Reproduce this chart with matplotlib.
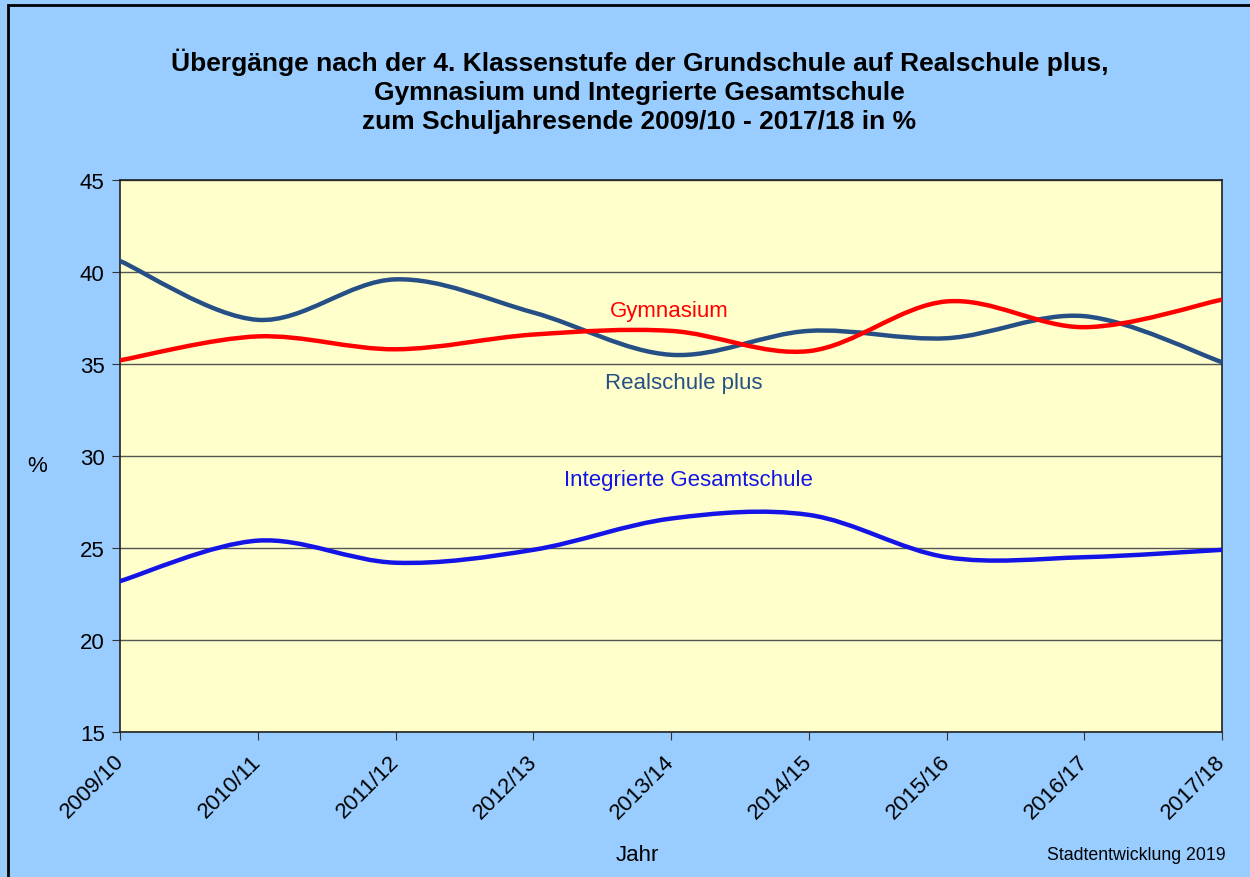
import numpy as np
import matplotlib.pyplot as plt
import matplotlib.transforms as mtransforms
from matplotlib.path import Path
from matplotlib.patches import PathPatch, Rectangle

plt.rcParams['font.family'] = ['Liberation Sans', 'DejaVu Sans']

# school years and transfer rates in %
years = ['2009/10', '2010/11', '2011/12', '2012/13', '2013/14',
         '2014/15', '2015/16', '2016/17', '2017/18']
realschule = [40.6, 37.4, 39.6, 37.8, 35.5, 36.8, 36.4, 37.6, 35.1]
gymnasium = [35.2, 36.5, 35.8, 36.6, 36.8, 35.7, 38.4, 37.0, 38.5]
igs = [23.2, 25.4, 24.2, 24.9, 26.6, 26.8, 24.5, 24.5, 24.9]


def smooth_path(x, y):
    # Bezier path through the points, like Excel's "smoothed line"
    p = np.column_stack([x, y]).astype(float)
    ext = np.vstack([p[0], p, p[-1]])
    verts = [p[0]]
    codes = [Path.MOVETO]
    for i in range(len(p) - 1):
        c1 = p[i] + (ext[i + 2] - ext[i]) / 6
        c2 = p[i + 1] - (ext[i + 3] - ext[i + 1]) / 6
        verts += [c1, c2, p[i + 1]]
        codes += [Path.CURVE4] * 3
    return Path(verts, codes)


fig = plt.figure(figsize=(12.5, 8.78), dpi=100)
fig.patch.set_facecolor('#99CCFF')
fig.patches.append(Rectangle((8 / 1250, -0.1), 1.2, 1 - 6 / 878 + 0.1,
                             transform=fig.transFigure, fill=False,
                             edgecolor='black', linewidth=2))

ax = fig.add_axes([120 / 1250, 1 - 733 / 878, 1102 / 1250, 552 / 878])
ax.set_facecolor('#FFFFCC')

x = np.arange(len(years))
series = [(realschule, '#264F85'), (gymnasium, '#FF0000'), (igs, '#1414E6')]
for vals, col in series:
    ax.add_patch(PathPatch(smooth_path(x, vals), fill=False, edgecolor=col,
                           linewidth=3.2, capstyle='round', zorder=3))

ax.set_xlim(0, len(years) - 1)
ax.set_ylim(15, 45)
ax.set_yticks(range(15, 46, 5))
ax.set_xticks(x)
ax.set_xticklabels(years, rotation=45, ha='right', rotation_mode='anchor')
ax.tick_params(axis='both', labelsize=16, direction='out', length=6,
               color='#333333', pad=5)
shift = mtransforms.ScaledTranslation(-7 / 100, -3 / 100, fig.dpi_scale_trans)
for lbl in ax.get_xticklabels():
    lbl.set_transform(lbl.get_transform() + shift)
ax.yaxis.grid(True, color='#555555', linewidth=1)
ax.set_axisbelow(True)
for s in ax.spines.values():
    s.set_color('#222222')
    s.set_linewidth(1.2)

ax.text(3.99, 37.93, 'Gymnasium', color='#FF0000', fontsize=16,
        ha='center', va='center')
ax.text(4.09, 33.97, 'Realschule plus', color='#264F85', fontsize=16,
        ha='center', va='center')
ax.text(4.13, 28.7, 'Integrierte Gesamtschule', color='#1414E6', fontsize=16,
        ha='center', va='center')

fig.text(0.5115, 1 - 91 / 878,
         'Übergänge nach der 4. Klassenstufe der Grundschule auf Realschule plus,\n'
         'Gymnasium und Integrierte Gesamtschule\n'
         'zum Schuljahresende 2009/10 - 2017/18 in %',
         ha='center', va='center', fontsize=19, fontweight='bold',
         linespacing=1.27)
fig.text(37 / 1250, 1 - 467 / 878, '%', ha='center', va='center', fontsize=16)
fig.text(637 / 1250, 1 - 856 / 878, 'Jahr', ha='center', va='center',
         fontsize=16)
fig.text(1226 / 1250, 1 - 856 / 878, 'Stadtentwicklung 2019', ha='right',
         va='center', fontsize=12.8)

fig.savefig('out.png', dpi=100, facecolor=fig.get_facecolor())
